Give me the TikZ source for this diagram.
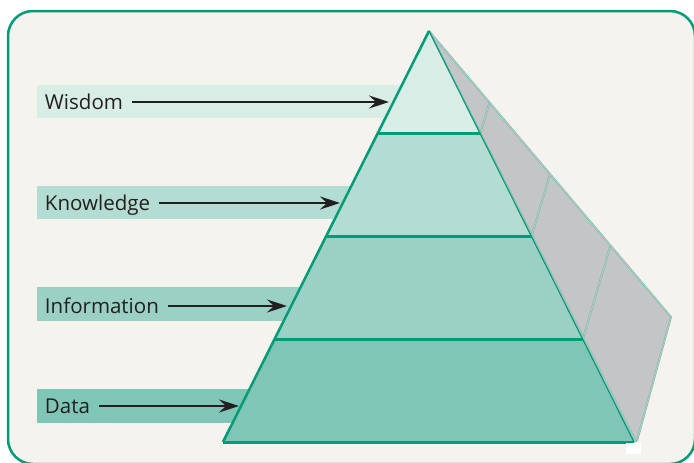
\documentclass[tikz,border=0pt]{standalone}
\usepackage{fontspec}
\setmainfont{Open Sans}
\usetikzlibrary{arrows.meta,positioning,calc}
\definecolor{dikwteal}{HTML}{009B77}
\definecolor{dikwpaper}{HTML}{F4F3EE}
\definecolor{dikwink}{HTML}{231F20}
\definecolor{wisdomc}{HTML}{D9EDE7}
\definecolor{knowledgec}{HTML}{B3DCD2}
\definecolor{informationc}{HTML}{9BD1C4}
\definecolor{datac}{HTML}{80C6B7}
\definecolor{sidegrey}{HTML}{C4C5C7}
\definecolor{sideteal}{HTML}{6CC0AC}
\tikzset{
    %Define standard arrow tip
    >={Stealth[length=20pt,width=13pt,inset=7pt]},
    %Define style for the label strips
    dikwstrip/.style={
             fill=#1, draw=none},
    %Define style for the labels
    dikwlabel/.style={
             anchor=west, inner sep=0pt, outer xsep=9pt,
             text height=16pt, text depth=2pt,
             text=dikwink,
             font=\fontsize{20.5}{24}\selectfont},
    % Define arrow style
    dikwarrow/.style={
            ->,
            line width=2.3pt,
            draw=dikwink},
    % Define pyramid line styles
    bandline/.style={
            draw=dikwteal, line width=3pt},
    sideline/.style={
            draw=sideteal, line width=0.5pt,
            double=sidegrey, double distance=0.9pt}
}
\begin{document}
\begin{tikzpicture}[x=1pt, y=-1pt]
 \useasboundingbox (0,0) rectangle (694,463);
 \clip (0,0) rectangle (694,463);
 \fill[white] (0,0) rectangle (694,463);
 \draw[dikwteal, line width=2.5pt, fill=dikwpaper, rounded corners=25pt]
      (8,11) rectangle (695,464);

 % label strips
 \fill[dikwstrip=wisdomc] (37,85) rectangle (420,118);
 \fill[dikwstrip=knowledgec] (37,186) rectangle (420,219);
 \fill[dikwstrip=informationc] (37,287) rectangle (420,321);
 \fill[dikwstrip=datac] (37,389) rectangle (420,423);

 % pyramid corners
 \coordinate (apex) at (429,31);
 \coordinate (baseL) at (223,442);
 \coordinate (baseR) at (634,442);
 \coordinate (back) at (671,317);
 \coordinate (l1) at ($(apex)!0.25!(baseL)$);
 \coordinate (l2) at ($(apex)!0.5!(baseL)$);
 \coordinate (l3) at ($(apex)!0.75!(baseL)$);
 \coordinate (r1) at ($(apex)!0.25!(baseR)$);
 \coordinate (r2) at ($(apex)!0.5!(baseR)$);
 \coordinate (r3) at ($(apex)!0.75!(baseR)$);
 \coordinate (b1) at ($(apex)!0.25!(back)$);
 \coordinate (b2) at ($(apex)!0.5!(back)$);
 \coordinate (b3) at ($(apex)!0.75!(back)$);

 % side face
 \fill[sidegrey] (apex) -- (back) -- (637,441) -- (baseR) -- cycle;
 \draw[sideline] (r1) -- (b1);
 \draw[sideline] (r2) -- (b2);
 \draw[sideline] (r3) -- (b3);
 \draw[sideline] (apex) -- (back) -- (637,441);
 \draw[sideline] (apex) -- ($(baseR)+(2,0)$);

 % front face
 \fill[wisdomc] (apex) -- (r1) -- (l1) -- cycle;
 \fill[knowledgec] (l1) -- (r1) -- (r2) -- (l2) -- cycle;
 \fill[informationc] (l2) -- (r2) -- (r3) -- (l3) -- cycle;
 \fill[datac] (l3) -- (r3) -- (baseR) -- (baseL) -- cycle;
 \draw[bandline] (l1) -- (r1);
 \draw[bandline] (l2) -- (r2);
 \draw[bandline] (l3) -- (r3);
 \draw[bandline] (baseL) -- (baseR);
 \draw[dikwteal, line width=2.5pt, line join=miter] (baseL) -- (apex);
 \draw[dikwteal, line width=1.2pt] (apex) -- (baseR);
 \fill[white] (626,443) rectangle (641,454);

 % labels and arrows
 \node[dikwlabel] (wisdom) at (36,102) {Wisdom};
 \node[dikwlabel] (knowledge) at (36,203) {Knowledge};
 \node[dikwlabel] (information) at (36,306) {Information};
 \node[dikwlabel] (data) at (36,406) {Data};
 \coordinate (wisdomtip) at (389,102);
 \coordinate (knowledgetip) at (340,203);
 \coordinate (informationtip) at (287,306);
 \coordinate (datatip) at (239,406);
 \draw[dikwarrow] (wisdom) -- (wisdomtip);
 \draw[dikwarrow] (knowledge) -- (knowledgetip);
 \draw[dikwarrow] (information) -- (informationtip);
 \draw[dikwarrow] (data) -- (datatip);
\end{tikzpicture}
\end{document}
